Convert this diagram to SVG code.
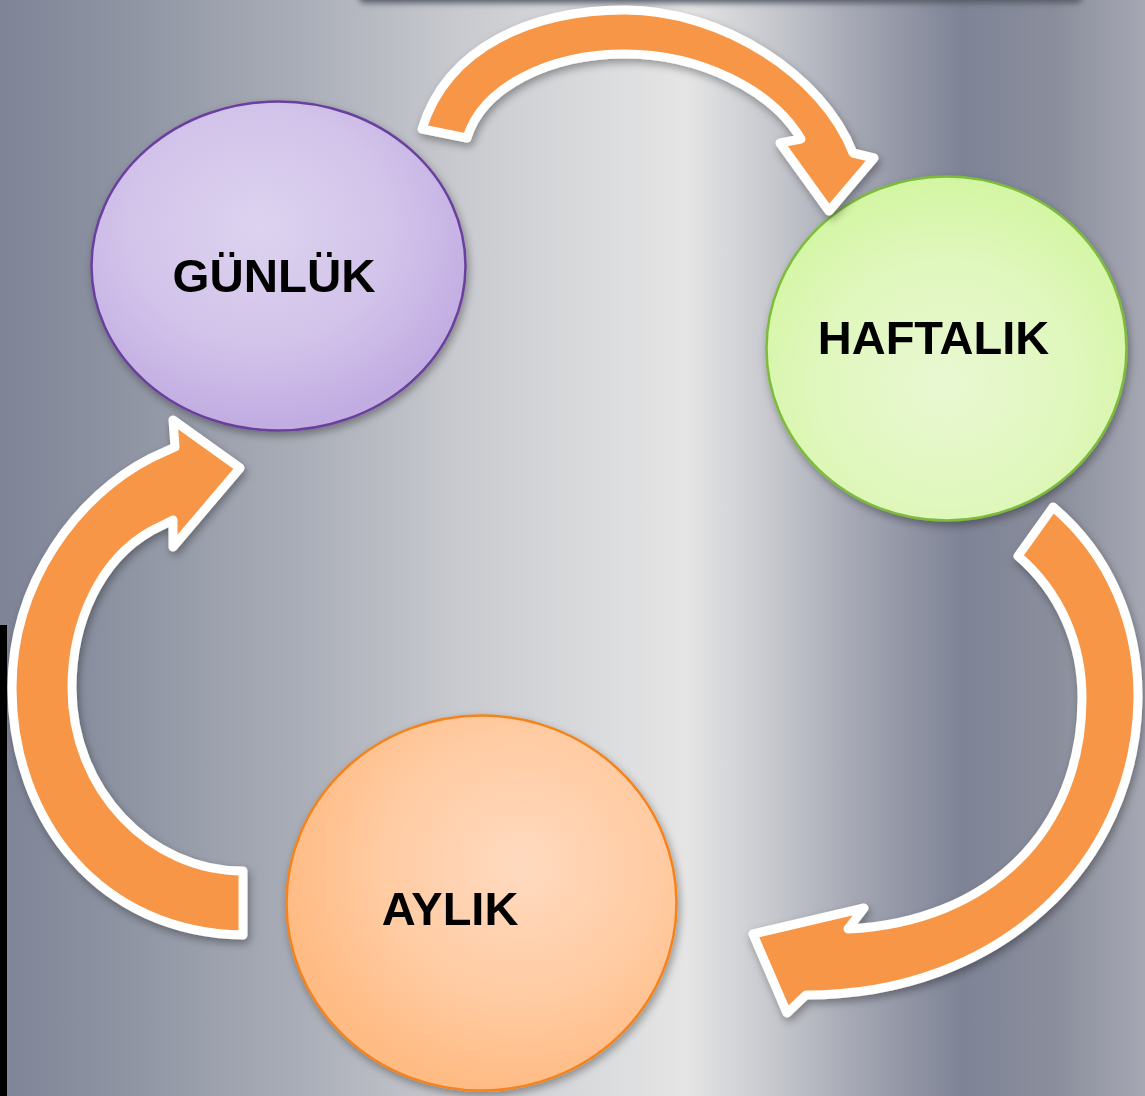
<svg xmlns="http://www.w3.org/2000/svg" width="1145" height="1096" viewBox="0 0 1145 1096">
<defs>
<linearGradient id="bg" x1="0" y1="0" x2="1" y2="0">
<stop offset="0" stop-color="#7e8496"/>
<stop offset="0.09" stop-color="#8b91a0"/>
<stop offset="0.26" stop-color="#a9adb7"/>
<stop offset="0.40" stop-color="#c8cacf"/>
<stop offset="0.52" stop-color="#dadbdd"/>
<stop offset="0.60" stop-color="#e5e5e5"/>
<stop offset="0.68" stop-color="#c4c6cc"/>
<stop offset="0.75" stop-color="#a3a6b2"/>
<stop offset="0.84" stop-color="#7e8396"/>
<stop offset="0.92" stop-color="#8a8e9c"/>
<stop offset="1" stop-color="#a5a8b3"/>
</linearGradient>
<radialGradient id="gPurple" cx="0.45" cy="0.38" r="0.6">
<stop offset="0" stop-color="#ddd3ef"/>
<stop offset="0.6" stop-color="#d2c3ea"/>
<stop offset="1" stop-color="#c2ade2"/>
</radialGradient>
<radialGradient id="gGreen" cx="0.5" cy="0.6" r="0.6">
<stop offset="0" stop-color="#e9f8d2"/>
<stop offset="0.6" stop-color="#e0f7bd"/>
<stop offset="1" stop-color="#d3f6a2"/>
</radialGradient>
<radialGradient id="gOrange" cx="0.6" cy="0.4" r="0.6">
<stop offset="0" stop-color="#ffdac0"/>
<stop offset="0.6" stop-color="#ffcba2"/>
<stop offset="1" stop-color="#ffbb84"/>
</radialGradient>
<filter id="sh" x="-10%" y="-10%" width="120%" height="120%">
<feDropShadow dx="2" dy="4" stdDeviation="4" flood-color="#000" flood-opacity="0.35"/>
</filter>
<filter id="blur" x="-10%" y="-100%" width="120%" height="300%">
<feGaussianBlur stdDeviation="3"/>
</filter>
<style>
.arrow{fill:#f79646;stroke:#ffffff;stroke-width:9;stroke-linejoin:round;filter:url(#sh)}
.lbl{font-family:"Liberation Sans",Arial,sans-serif;font-weight:bold;font-size:47px;fill:#000;text-anchor:middle}
</style>
</defs>
<rect x="0" y="0" width="1145" height="1096" fill="url(#bg)"/>
<rect x="358" y="-30" width="725" height="33" rx="8" fill="#555a66" filter="url(#blur)"/>
<rect x="0" y="625" width="7" height="471" fill="#000"/>

<g id="node-gunluk" filter="url(#sh)">
<ellipse cx="278.5" cy="266" rx="187" ry="164.5" fill="url(#gPurple)" stroke="#6b3f9e" stroke-width="2.5"/>
<text class="lbl" x="274" y="292" textLength="203" lengthAdjust="spacingAndGlyphs">GÜNLÜK</text>
</g>
<g id="node-haftalik" filter="url(#sh)">
<ellipse cx="946.5" cy="348.5" rx="180" ry="172" fill="url(#gGreen)" stroke="#7dbb3c" stroke-width="2.5"/>
<text class="lbl" x="933.5" y="354">HAFTALIK</text>
</g>
<g id="node-aylik" filter="url(#sh)">
<ellipse cx="481.5" cy="903" rx="195" ry="187.5" fill="url(#gOrange)" stroke="#f4831f" stroke-width="2.5"/>
<text class="lbl" x="450" y="925">AYLIK</text>
</g>

<g id="connectors">
<path class="arrow" d="M 422,129 C 448,45 535,10 625,10 C 722,10 823,75 853,153 L 874,158 L 829,211 L 780,143 L 801,139 C 772,90 700,54 625,54 C 548,54 482,88 467,138 Z"/>
<path class="arrow" d="M 1053,507 C 1110,555 1139,625 1138,700 C 1135,864 1000,995 806,995 L 787,1013 L 753,934 L 864,908 L 848,929 C 990,922 1082,830 1082,698 C 1082,643 1060,592 1018,556 Z"/>
<path class="arrow" d="M 243,935 C 100,933 12,820 12,688 C 12,582 78,495 151,458 L 175,447 L 173,420 L 240,468 L 173,547 L 173,520 L 151,531 C 100,560 72,622 72,688 C 72,790 150,871 243,871 Z"/>
</g>
</svg>
